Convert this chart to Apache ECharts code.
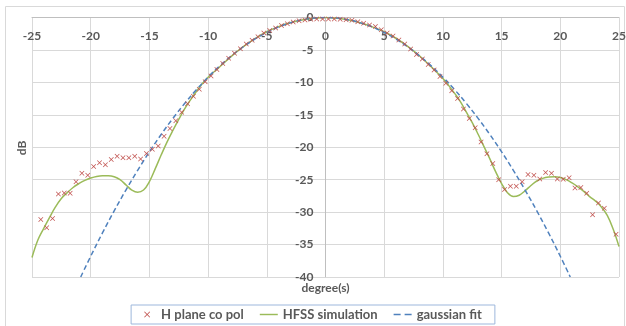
<!DOCTYPE html>
<html>
<head>
<meta charset="utf-8">
<script src="https://cdn.jsdelivr.net/npm/echarts@6/dist/echarts.min.js"></script>
<style>
  html, body { margin: 0; padding: 0; background: #fff; }
  #chart { width: 626px; height: 326px; }
</style>
</head>
<body>
<div id="chart"></div>
<script>
// measured points (H plane co pol)
const measDeg = [-24.25, -23.75, -23.25, -22.75, -22.25, -21.75, -21.25, -20.75, -20.25, -19.75,
  -19.25, -18.75, -18.25, -17.75, -17.25, -16.75, -16.25, -15.75, -15.25, -14.75,
  -14.25, -13.75, -13.25, -12.75, -12.25, -11.75, -11.25, -10.75, -10.25, -9.75,
  -9.25, -8.75, -8.25, -7.75, -7.25, -6.75, -6.25, -5.75, -5.25, -4.75,
  -4.25, -3.75, -3.25, -2.75, -2.25, -1.75, -1.25, -0.75, -0.25, 0.25,
  0.75, 1.25, 1.75, 2.25, 2.75, 3.25, 3.75, 4.25, 4.75, 5.25,
  5.75, 6.25, 6.75, 7.25, 7.75, 8.25, 8.75, 9.25, 9.75, 10.25,
  10.75, 11.25, 11.75, 12.25, 12.75, 13.25, 13.75, 14.25, 14.75, 15.25,
  15.75, 16.25, 16.75, 17.25, 17.75, 18.25, 18.75, 19.25, 19.75, 20.25,
  20.75, 21.25, 21.75, 22.25, 22.75, 23.25, 23.75, 24.75];
const measDb = [-31.15, -32.4, -31.0, -27.2, -27.05, -27.1, -25.3, -24.0, -24.3, -22.95,
  -22.4, -22.7, -21.9, -21.4, -21.6, -21.6, -21.4, -21.8, -20.95, -20.3,
  -19.8, -18.3, -17.1, -15.9, -14.6, -13.3, -12.15, -11.05, -9.9, -9.0,
  -8.0, -7.1, -6.3, -5.5, -4.8, -4.1, -3.5, -2.95, -2.4, -2.0,
  -1.6, -1.25, -0.95, -0.7, -0.5, -0.38, -0.28, -0.25, -0.23, -0.23,
  -0.23, -0.28, -0.33, -0.44, -0.64, -0.9, -1.15, -1.4, -1.9, -2.4,
  -2.85, -3.46, -4.1, -4.85, -5.7, -6.4, -7.25, -8.1, -9.1, -10.15,
  -11.3, -12.5, -14.1, -15.55, -17.0, -19.2, -21.0, -22.5, -25.0, -26.5,
  -26.0, -26.0, -25.3, -24.2, -24.3, -24.9, -23.9, -24.0, -24.9, -24.95,
  -24.7, -26.3, -26.2, -27.1, -30.4, -28.6, -29.4, -33.4];

// HFSS simulation
const simDeg = [-25, -24.5, -24, -23.5, -23, -22.5, -22, -21.5, -21, -20.5,
  -20, -19.5, -19, -18.5, -18, -17.5, -17, -16.5, -16, -15.5,
  -15, -14.5, -14, -13.5, -13, -12.5, -12, -11.5, -11, -10.5,
  -10, -9, -8, -7, -6, -5, -4, -3, -2, -1,
  0, 1, 2, 3, 4, 5, 6, 7, 8, 9,
  10, 10.5, 11, 11.5, 12, 12.5, 13, 13.5, 14, 14.5,
  15, 15.5, 16, 16.5, 17, 17.5, 18, 18.5, 19, 19.5,
  20, 20.5, 21, 21.5, 22, 22.5, 23, 23.5, 24, 24.5, 25];
const simDb = [-37.0, -34.3, -32.5, -30.8, -29.2, -27.9, -27.0, -26.2, -25.6, -25.1,
  -24.75, -24.5, -24.4, -24.4, -24.55, -25.0, -25.8, -26.6, -26.95, -26.6,
  -25.3, -23.3, -21.2, -19.2, -17.4, -15.7, -14.1, -12.7, -11.4, -10.2,
  -9.2, -7.6, -5.95, -4.5, -3.25, -2.2, -1.4, -0.8, -0.38, -0.12,
  0, -0.12, -0.4, -0.85, -1.45, -2.2, -3.2, -4.45, -5.9, -7.6,
  -9.4, -10.5, -11.7, -13.0, -14.6, -16.2, -18.0, -19.9, -21.8, -23.8,
  -25.6, -27.0, -27.6, -27.4, -26.7, -25.9, -25.2, -24.8, -24.6, -24.55,
  -24.65, -25.0, -25.5, -26.1, -26.8, -27.6, -28.3, -29.2, -30.5, -32.6, -35.3];

// gaussian fit
const fitDeg = [-20.85, -20, -19, -18, -17, -16, -15, -14, -13, -12, -11, -10, -9, -8, -7, -6, -5, -4, -3, -2, -1,
  0, 1, 2, 3, 4, 5, 6, 7, 8, 9, 10, 11, 12, 13, 14, 15, 16, 17, 18, 19, 20, 20.85];
const fitDb = [-40.0, -36.8, -33.21, -29.81, -26.59, -23.55, -20.7, -18.03, -15.55, -13.25, -11.13, -9.2, -7.45, -5.89, -4.51, -3.31, -2.3, -1.47, -0.83, -0.37, -0.09,
  0, -0.09, -0.37, -0.83, -1.47, -2.3, -3.31, -4.51, -5.89, -7.45, -9.2, -11.13, -13.25, -15.55, -18.03, -20.7, -23.55, -26.59, -29.81, -33.21, -36.8, -40.0];

const xMin = -25, xMax = 25, xStep = 5;
const yMin = -40, yMax = 0, yStep = 5;

const pair = (xs, ys) => xs.map((x, i) => [x, ys[i]]);

const gridLeft = 32, gridRight = 7;
const plotW = 626 - gridLeft - gridRight;
// y axis sits on x = 0, x axis on y = 0 (the top edge)
const yAxisShift = -plotW * (0 - xMin) / (xMax - xMin);

const labelFont = { fontFamily: 'Lato', fontWeight: 'bold', fontSize: 12, color: '#595959' };
const gridLine = { show: true, lineStyle: { color: '#d9d9d9', width: 1 } };
const crossMark = 'path://M0,1L1,0L5,4L9,0L10,1L6,5L10,9L9,10L5,6L1,10L0,9L4,5Z';
const solidIcon = 'path://M0,0L20,0L20,1.6L0,1.6Z';
const dashIcon = 'path://M0,0h7v1.6h-7zM11,0h7v1.6h-7z';

const chart = echarts.init(document.getElementById('chart'));
chart.setOption({
  animation: false,
  textStyle: { fontFamily: 'Lato' },
  graphic: [{
    type: 'rect',
    shape: { x: 5.5, y: 6.5, width: 619, height: 330 },
    style: { fill: 'none', stroke: '#d9d9d9', lineWidth: 1 },
    silent: true,
    z: -10
  }, {
    type: 'text', x: 22, y: 148, rotation: Math.PI / 2,
    style: { text: 'dB', align: 'center', verticalAlign: 'middle', fill: '#595959', font: 'bold 12px Lato' }
  }, {
    type: 'text', x: 325.5, y: 288,
    style: { text: 'degree(s)', align: 'center', verticalAlign: 'middle', fill: '#595959', font: 'bold 12px Lato' }
  }],
  grid: { left: gridLeft, right: gridRight, top: 17.5, bottom: 49, containLabel: false, outerBoundsMode: 'none' },
  xAxis: {
    type: 'value', min: xMin, max: xMax, interval: xStep,
    position: 'top',
    axisLine: { show: true, onZero: false, lineStyle: { color: '#bfbfbf' } },
    axisTick: { show: false },
    axisLabel: Object.assign({ inside: true, margin: 13 }, labelFont),
    splitLine: gridLine
  },
  yAxis: {
    type: 'value', min: yMin, max: yMax, interval: yStep,
    position: 'left', offset: yAxisShift,
    axisLine: { show: true, onZero: false, lineStyle: { color: '#bfbfbf' } },
    axisTick: { show: false },
    axisLabel: Object.assign({ margin: 12 }, labelFont),
    splitLine: gridLine
  },
  legend: {
    bottom: 2, left: 'center',
    borderColor: '#9db7dc', borderWidth: 1,
    padding: [3, 13, 3, 13],
    itemGap: 16, itemWidth: 18, itemHeight: 6,
    symbolKeepAspect: true,
    textStyle: Object.assign({}, labelFont, { fontSize: 13 }),
    data: [
      { name: 'H plane co pol', icon: crossMark },
      { name: 'HFSS simulation', icon: solidIcon },
      { name: 'gaussian fit', icon: dashIcon }
    ]
  },
  series: [{
    name: 'HFSS simulation', type: 'line',
    data: pair(simDeg, simDb),
    smooth: 0.4, symbol: 'none', showSymbol: false,
    lineStyle: { color: '#9bbb59', width: 1.5 },
    itemStyle: { color: '#9bbb59' },
    z: 2
  }, {
    name: 'gaussian fit', type: 'line',
    data: pair(fitDeg, fitDb),
    smooth: 0.4, symbol: 'none', showSymbol: false,
    lineStyle: { color: '#4f81bd', width: 1.5, type: [5, 3] },
    itemStyle: { color: '#4f81bd' },
    z: 2
  }, {
    name: 'H plane co pol', type: 'scatter',
    data: pair(measDeg, measDb),
    symbol: crossMark, symbolSize: 5, symbolKeepAspect: true,
    itemStyle: { color: '#c0504d', opacity: 1 },
    z: 3
  }]
});
</script>
</body>
</html>
